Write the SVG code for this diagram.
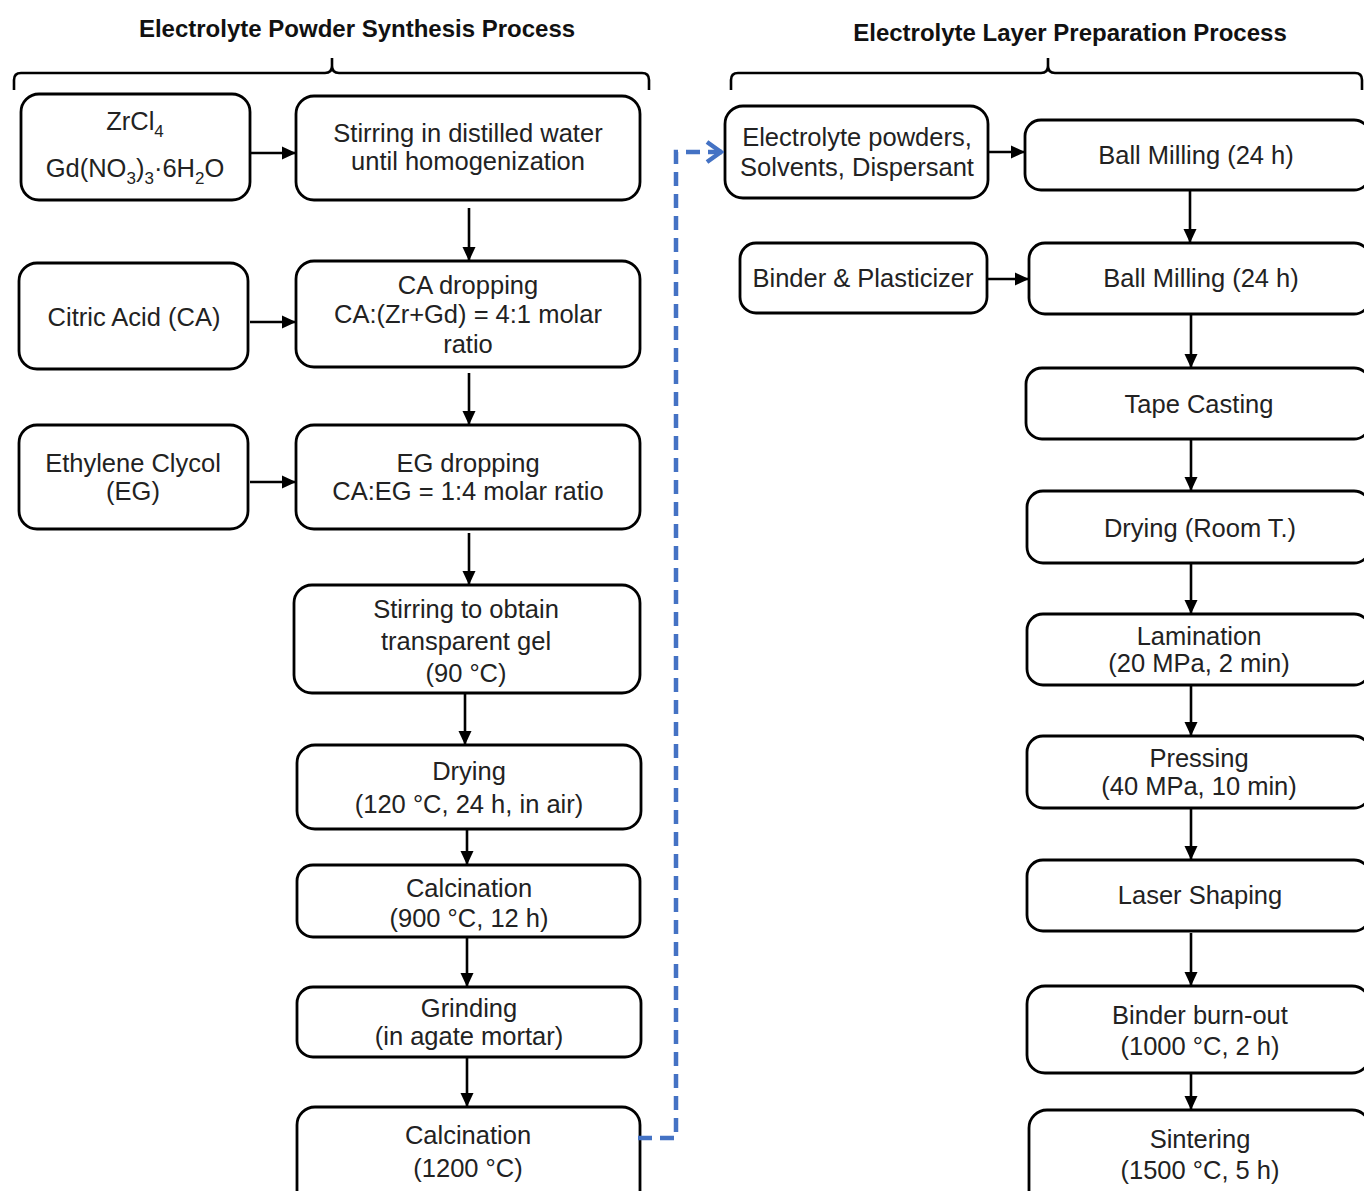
<svg xmlns="http://www.w3.org/2000/svg" width="1364" height="1191" viewBox="0 0 1364 1191">
<defs>
<style>
.box{fill:#fff;stroke:#000;stroke-width:2.8}
.t{font-family:"Liberation Sans",Arial,sans-serif;font-size:25.5px;fill:#222;text-anchor:middle}
.h{font-family:"Liberation Sans",Arial,sans-serif;font-size:24px;font-weight:bold;fill:#111;text-anchor:middle}
.c{fill:none;stroke:#000;stroke-width:2.6}
.br{fill:none;stroke:#000;stroke-width:2.6}
.sub{font-size:17px}
</style>
<marker id="ah" markerWidth="14" markerHeight="14" viewBox="0 0 14 14" refX="13" refY="7" orient="auto" markerUnits="userSpaceOnUse">
<path d="M0,0.5 L14,7 L0,13.5 Z" fill="#000"/>
</marker>
<marker id="bh" markerWidth="20" markerHeight="26" viewBox="0 0 20 26" refX="18" refY="13" orient="auto" markerUnits="userSpaceOnUse">
<path d="M3,3 L17,13 L3,23" fill="none" stroke="#4472C4" stroke-width="4.5"/>
</marker>
</defs>
<rect width="1364" height="1191" fill="#fff"/>

<g id="headers">
<text class="h" x="357" y="37">Electrolyte Powder Synthesis Process</text>
<path class="br" d="M14,90 L14,80 Q14,73 21,73 L325,73 Q332,73 332,66 L332,58 M332,66 Q332,73 339,73 L642,73 Q649,73 649,80 L649,90"/>
<text class="h" x="1070" y="41">Electrolyte Layer Preparation Process</text>
<path class="br" d="M731,90 L731,80 Q731,73 738,73 L1041,73 Q1048,73 1048,66 L1048,58 M1048,66 Q1048,73 1055,73 L1355,73 Q1362,73 1362,80 L1362,90"/>
</g>

<g id="n1"><rect class="box" x="21" y="94" width="229" height="106" rx="18"/>
<text class="t" x="135" y="130">ZrCl<tspan class="sub" dy="7">4</tspan></text>
<text class="t" x="135" y="177">Gd(NO<tspan class="sub" dy="7">3</tspan><tspan dy="-7">)</tspan><tspan class="sub" dy="7">3</tspan><tspan dy="-7">·6H</tspan><tspan class="sub" dy="7">2</tspan><tspan dy="-7">O</tspan></text></g>
<g id="n2"><rect class="box" x="296" y="96" width="344" height="104" rx="18"/>
<text class="t" x="468" y="142">Stirring in distilled water</text>
<text class="t" x="468" y="170">until homogenization</text></g>
<g id="n3"><rect class="box" x="19" y="263" width="229" height="106" rx="18"/>
<text class="t" x="134" y="326">Citric Acid (CA)</text></g>
<g id="n4"><rect class="box" x="296" y="261" width="344" height="106" rx="18"/>
<text class="t" x="468" y="294">CA dropping</text>
<text class="t" x="468" y="323">CA:(Zr+Gd) = 4:1 molar</text>
<text class="t" x="468" y="353">ratio</text></g>
<g id="n5"><rect class="box" x="19" y="425" width="229" height="104" rx="18"/>
<text class="t" x="133" y="472">Ethylene Clycol</text>
<text class="t" x="133" y="500">(EG)</text></g>
<g id="n6"><rect class="box" x="296" y="425" width="344" height="104" rx="18"/>
<text class="t" x="468" y="472">EG dropping</text>
<text class="t" x="468" y="500">CA:EG = 1:4 molar ratio</text></g>
<g id="n7"><rect class="box" x="294" y="585" width="346" height="108" rx="18"/>
<text class="t" x="466" y="618">Stirring to obtain</text>
<text class="t" x="466" y="650">transparent gel</text>
<text class="t" x="466" y="682">(90 °C)</text></g>
<g id="n8"><rect class="box" x="297" y="745" width="344" height="84" rx="18"/>
<text class="t" x="469" y="780">Drying</text>
<text class="t" x="469" y="813">(120 °C, 24 h, in air)</text></g>
<g id="n9"><rect class="box" x="297" y="865" width="343" height="72" rx="16"/>
<text class="t" x="469" y="897">Calcination</text>
<text class="t" x="469" y="927">(900 °C, 12 h)</text></g>
<g id="n10"><rect class="box" x="297" y="987" width="344" height="70" rx="16"/>
<text class="t" x="469" y="1017">Grinding</text>
<text class="t" x="469" y="1045">(in agate mortar)</text></g>
<g id="n11"><rect class="box" x="297" y="1107" width="343" height="110" rx="18"/>
<text class="t" x="468" y="1144">Calcination</text>
<text class="t" x="468" y="1177">(1200 °C)</text></g>

<g id="r1"><rect class="box" x="725" y="106" width="263" height="92" rx="18"/>
<text class="t" x="857" y="146">Electrolyte powders,</text>
<text class="t" x="857" y="176">Solvents, Dispersant</text></g>
<g id="r2"><rect class="box" x="1025" y="120" width="345" height="70" rx="16"/>
<text class="t" x="1196" y="164">Ball Milling (24 h)</text></g>
<g id="r3"><rect class="box" x="740" y="243" width="247" height="70" rx="16"/>
<text class="t" x="863" y="287">Binder &amp; Plasticizer</text></g>
<g id="r4"><rect class="box" x="1029" y="243" width="341" height="71" rx="16"/>
<text class="t" x="1201" y="287">Ball Milling (24 h)</text></g>
<g id="r5"><rect class="box" x="1026" y="368" width="344" height="71" rx="16"/>
<text class="t" x="1199" y="413">Tape Casting</text></g>
<g id="r6"><rect class="box" x="1027" y="491" width="343" height="72" rx="16"/>
<text class="t" x="1200" y="537">Drying (Room T.)</text></g>
<g id="r7"><rect class="box" x="1027" y="614" width="343" height="71" rx="16"/>
<text class="t" x="1199" y="645">Lamination</text>
<text class="t" x="1199" y="672">(20 MPa, 2 min)</text></g>
<g id="r8"><rect class="box" x="1027" y="736" width="343" height="72" rx="16"/>
<text class="t" x="1199" y="767">Pressing</text>
<text class="t" x="1199" y="795">(40 MPa, 10 min)</text></g>
<g id="r9"><rect class="box" x="1027" y="860" width="343" height="71" rx="16"/>
<text class="t" x="1200" y="904">Laser Shaping</text></g>
<g id="r10"><rect class="box" x="1027" y="986" width="343" height="87" rx="18"/>
<text class="t" x="1200" y="1024">Binder burn-out</text>
<text class="t" x="1200" y="1055">(1000 °C, 2 h)</text></g>
<g id="r11"><rect class="box" x="1029" y="1110" width="341" height="110" rx="18"/>
<text class="t" x="1200" y="1148">Sintering</text>
<text class="t" x="1200" y="1179">(1500 °C, 5 h)</text></g>

<g id="connectors">
<line class="c" x1="250" y1="153" x2="295" y2="153" marker-end="url(#ah)"/>
<line class="c" x1="250" y1="322" x2="295" y2="322" marker-end="url(#ah)"/>
<line class="c" x1="250" y1="482" x2="295" y2="482" marker-end="url(#ah)"/>
<line class="c" x1="469" y1="208" x2="469" y2="260" marker-end="url(#ah)"/>
<line class="c" x1="469" y1="373" x2="469" y2="424" marker-end="url(#ah)"/>
<line class="c" x1="469" y1="533" x2="469" y2="584" marker-end="url(#ah)"/>
<line class="c" x1="465" y1="693" x2="465" y2="744" marker-end="url(#ah)"/>
<line class="c" x1="467" y1="829" x2="467" y2="864" marker-end="url(#ah)"/>
<line class="c" x1="467" y1="937" x2="467" y2="986" marker-end="url(#ah)"/>
<line class="c" x1="467" y1="1057" x2="467" y2="1106" marker-end="url(#ah)"/>
<line class="c" x1="988" y1="152" x2="1024" y2="152" marker-end="url(#ah)"/>
<line class="c" x1="987" y1="279" x2="1028" y2="279" marker-end="url(#ah)"/>
<line class="c" x1="1190" y1="190" x2="1190" y2="242" marker-end="url(#ah)"/>
<line class="c" x1="1191" y1="314" x2="1191" y2="367" marker-end="url(#ah)"/>
<line class="c" x1="1191" y1="439" x2="1191" y2="490" marker-end="url(#ah)"/>
<line class="c" x1="1191" y1="563" x2="1191" y2="613" marker-end="url(#ah)"/>
<line class="c" x1="1191" y1="685" x2="1191" y2="735" marker-end="url(#ah)"/>
<line class="c" x1="1191" y1="808" x2="1191" y2="859" marker-end="url(#ah)"/>
<line class="c" x1="1191" y1="933" x2="1191" y2="985" marker-end="url(#ah)"/>
<line class="c" x1="1191" y1="1073" x2="1191" y2="1109" marker-end="url(#ah)"/>
<path d="M638,1138 L676,1138 L676,152 L722,152" fill="none" stroke="#4472C4" stroke-width="4.5" stroke-dasharray="14,8" marker-end="url(#bh)"/>
</g>
</svg>
